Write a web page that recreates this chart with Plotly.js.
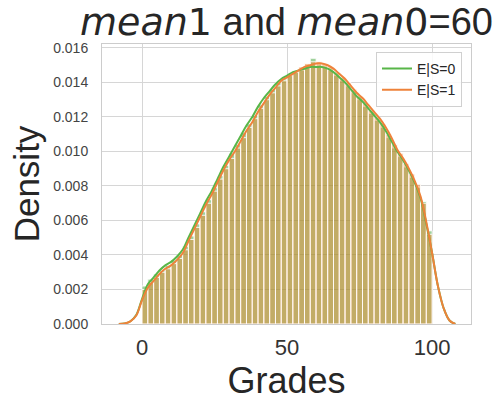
<!DOCTYPE html>
<html>
<head>
<meta charset="utf-8">
<script src="https://cdn.plot.ly/plotly-3.0.1.min.js"></script>
<style>html,body{margin:0;padding:0;background:#fff;}#chart{width:497px;height:403px;}</style>
</head>
<body>
<div id="chart"></div>
<script>
// Histogram bins (width 2) and densities per group
const binCenters = [1,3,5,7,9,11,13,15,17,19,21,23,25,27,29,31,33,35,37,39,41,43,45,47,49,51,53,55,57,59,61,63,65,67,69,71,73,75,77,79,81,83,85,87,89,91,93,95,97,99];
const histS0 = [0.0022,0.0026,0.0029,0.0031,0.0034,0.0037,0.0040,0.0045,0.0051,0.0058,0.0065,0.0072,0.0079,0.0086,0.0092,0.0099,0.0104,0.0111,0.0116,0.0121,0.0127,0.0132,0.0136,0.0140,0.0142,0.0144,0.0146,0.0147,0.0150,0.0154,0.0150,0.0149,0.0147,0.0144,0.0141,0.0138,0.0134,0.0130,0.0126,0.0122,0.0118,0.0114,0.0108,0.0102,0.0097,0.0091,0.0085,0.0079,0.0071,0.0054];
const histS1 = [0.0020,0.0024,0.0027,0.0030,0.0032,0.0035,0.0038,0.0043,0.0049,0.0056,0.0063,0.0070,0.0077,0.0084,0.0090,0.0096,0.0102,0.0108,0.0114,0.0119,0.0125,0.0130,0.0134,0.0138,0.0141,0.0144,0.0146,0.0149,0.0151,0.0152,0.0152,0.0151,0.0149,0.0146,0.0143,0.0140,0.0136,0.0132,0.0128,0.0124,0.0120,0.0116,0.0110,0.0104,0.0099,0.0093,0.0087,0.0081,0.0070,0.0052];
// KDE curves
const kdeX = [-8,-6,-4,-2,0,2,4,6,8,10,12,14,16,18,20,22,24,26,28,30,32,34,36,38,40,42,44,46,48,50,52,54,56,58,60,62,64,66,68,70,72,74,76,78,80,82,84,86,88,90,92,94,96,98,100,102,104,106,108];
const kdeS0 = [0.0000,0.00003,0.00016,0.00052,0.00145,0.0023,0.0027,0.0031,0.0034,0.0036,0.0039,0.0043,0.0050,0.0057,0.0064,0.0071,0.0077,0.0084,0.0091,0.0097,0.0103,0.0109,0.0115,0.0120,0.0126,0.0131,0.0135,0.0139,0.0142,0.0144,0.0146,0.0147,0.0148,0.0149,0.0149,0.0149,0.0148,0.0146,0.0143,0.0140,0.0136,0.0132,0.0129,0.0125,0.0121,0.0117,0.0112,0.0106,0.0100,0.0095,0.0089,0.0082,0.0073,0.0058,0.0041,0.0022,0.0009,0.0002,0.0000];
const kdeS1 = [0.0000,0.00003,0.00015,0.00049,0.00138,0.0021,0.0025,0.0029,0.0032,0.0034,0.0037,0.0041,0.0048,0.0055,0.0062,0.0069,0.0075,0.0082,0.0089,0.0095,0.0100,0.0106,0.0112,0.0117,0.0123,0.0128,0.0133,0.0137,0.0141,0.0143,0.0145,0.0147,0.0149,0.0150,0.0151,0.0151,0.0150,0.0148,0.0145,0.0142,0.0138,0.0134,0.0131,0.0127,0.0123,0.0119,0.0114,0.0108,0.0101,0.0096,0.0090,0.0083,0.0074,0.0059,0.0041,0.0022,0.0009,0.0002,0.0000];
const seriesNames = ['E|S=0','E|S=1'];
const xTicks = [0,50,100];
const yTicks = [0,0.002,0.004,0.006,0.008,0.010,0.012,0.014,0.016];
const yTickText = ['0.000','0.002','0.004','0.006','0.008','0.010','0.012','0.014','0.016'];

const green = 'rgb(88,182,72)';
const orange = 'rgb(238,130,58)';

const traces = [
  {type:'bar', x:binCenters, y:histS0, width:2, showlegend:false, hoverinfo:'skip',
   marker:{color:'rgba(45,155,40,0.46)', line:{color:'rgba(255,255,255,0.85)', width:1}}},
  {type:'bar', x:binCenters, y:histS1, width:2, showlegend:false, hoverinfo:'skip',
   marker:{color:'rgba(235,128,40,0.46)', line:{color:'rgba(255,255,255,0.85)', width:1}}},
  {type:'scatter', mode:'lines', x:kdeX, y:kdeS0, name:seriesNames[0],
   line:{color:green, width:2, shape:'spline'}},
  {type:'scatter', mode:'lines', x:kdeX, y:kdeS1, name:seriesNames[1],
   line:{color:orange, width:2, shape:'spline'}}
];

const layout = {
  width:497, height:403,
  margin:{l:102, r:26, t:44, b:79},
  paper_bgcolor:'#fff', plot_bgcolor:'#fff',
  barmode:'overlay', bargap:0,
  font:{family:'Liberation Sans, Arial, sans-serif', color:'#262626'},
  title:{
    text:'<span style="font-family:DejaVu Sans"><i>mean</i>1</span> and <span style="font-family:DejaVu Sans"><i>mean</i>0</span>=60',
    font:{size:38, color:'#262626', family:'Liberation Sans, Arial, sans-serif'},
    xref:'paper', x:0.5, xanchor:'center', yref:'container', y:0.945, yanchor:'middle'
  },
  xaxis:{
    range:[-13.8,113.4], tickvals:xTicks, ticktext:xTicks.map(String),
    showgrid:true, gridcolor:'#d6d6d6', gridwidth:1, zeroline:false,
    showline:true, linecolor:'#cccccc', linewidth:1, mirror:true,
    ticks:'', tickfont:{size:22, color:'#333'}, ticklabelstandoff:4,
    title:{text:'Grades', font:{size:36, color:'#262626'}, standoff:4}
  },
  yaxis:{
    range:[0,0.01623], tickvals:yTicks, ticktext:yTickText,
    showgrid:true, gridcolor:'#d6d6d6', gridwidth:1, zeroline:false,
    showline:true, linecolor:'#cccccc', linewidth:1, mirror:true,
    ticks:'', tickfont:{size:14, color:'#444'}, ticklabelstandoff:10,
    title:{text:'Density', font:{size:35, color:'#262626'}, standoff:2}
  },
  legend:{
    x:0.9756, xanchor:'right', y:0.972, yanchor:'top',
    bgcolor:'rgba(255,255,255,0.85)', bordercolor:'#d0d0d0', borderwidth:1,
    font:{size:14, color:'#262626'}, tracegroupgap:0
  }
};

Plotly.newPlot('chart', traces, layout, {displayModeBar:false, staticPlot:true});
</script>
</body>
</html>
